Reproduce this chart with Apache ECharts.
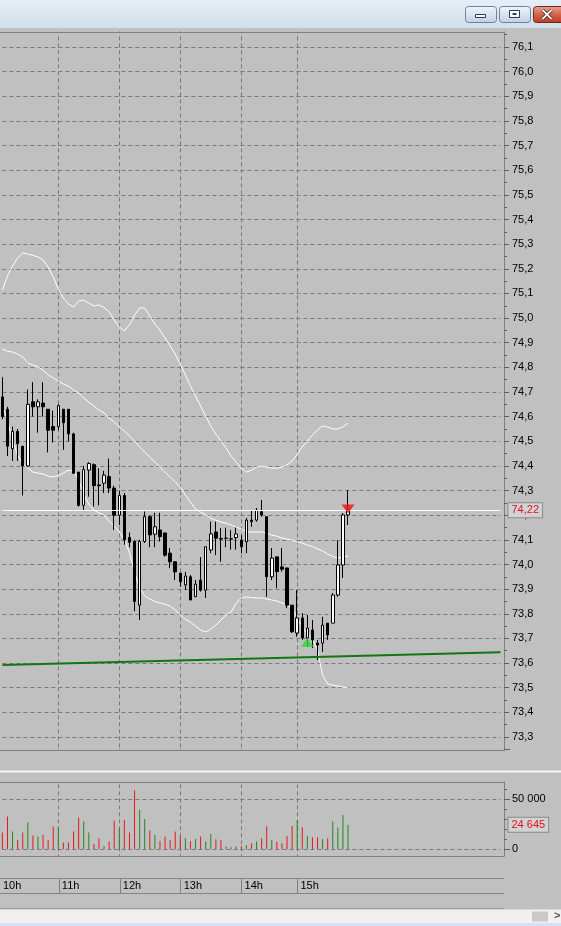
<!DOCTYPE html>
<html><head><meta charset="utf-8">
<script src="https://cdn.jsdelivr.net/npm/echarts@6/dist/echarts.min.js"></script>
<style>html,body{margin:0;padding:0;background:#c0c0c0;overflow:hidden}#c{width:561px;height:926px;}</style>
</head><body><div id="c"></div>
<script>
// ---- data (5-minute candles, index 0 = first visible bar) ----
const opens  = [74.68,74.63,74.47,74.54,74.48,74.40,74.66,74.64,74.655,74.63,74.56,74.56,74.63,74.63,74.53,74.375,74.24,74.383,74.405,74.323,74.33,74.357,74.31,74.20,74.28,74.11,74.093,73.835,74.093,74.194,74.123,74.14,74.128,74.046,74.011,73.965,73.917,73.95,73.869,73.937,73.896,74.059,74.132,74.105,74.106,74.104,74.109,74.099,74.092,74.18,74.18,74.214,74.194,73.95,74.031,73.99,73.986,73.835,73.722,73.783,73.702,73.734,73.681,73.681,73.762,73.762,73.876,73.998,74.201];
const closes = [74.60,74.48,74.54,74.49,74.40,74.65,74.64,74.66,74.64,74.545,74.545,74.645,74.575,74.53,74.37,74.24,74.385,74.41,74.32,74.32,74.363,74.31,74.20,74.28,74.10,74.09,73.85,74.093,74.194,74.12,74.153,74.113,74.038,74.011,73.97,73.93,73.953,73.856,73.92,73.896,74.072,74.124,74.107,74.103,74.107,74.103,74.124,74.072,74.18,74.174,74.221,74.201,73.95,74.026,73.971,73.981,73.835,73.727,73.783,73.702,73.742,73.694,73.673,73.754,73.714,73.876,73.998,74.201,74.22];
const lows   = [74.59,74.44,74.42,74.42,74.28,74.395,74.60,74.535,74.60,74.455,74.495,74.545,74.465,74.50,74.37,74.235,74.22,74.275,74.235,74.24,74.29,74.29,74.14,74.16,74.08,74.07,73.81,73.775,74.087,74.07,74.07,74.093,74.032,73.985,73.937,73.91,73.896,73.856,73.868,73.89,73.864,74.046,74.038,74.011,74.07,74.06,74.06,74.046,74.046,74.153,74.174,74.194,73.869,73.937,73.904,73.971,73.823,73.722,73.707,73.694,73.666,73.661,73.612,73.645,73.694,73.762,73.869,73.945,74.16];
const highs  = [74.76,74.64,74.56,74.55,74.48,74.71,74.74,74.67,74.74,74.63,74.625,74.65,74.63,74.63,74.535,74.375,74.40,74.415,74.41,74.39,74.38,74.43,74.32,74.30,74.29,74.13,74.10,74.10,74.215,74.20,74.21,74.21,74.128,74.067,74.011,73.965,73.97,73.957,73.937,74.03,74.072,74.174,74.174,74.148,74.15,74.14,74.15,74.119,74.189,74.221,74.229,74.262,74.194,74.067,74.031,74.067,73.986,73.835,73.896,73.803,73.795,73.775,73.694,73.788,73.762,73.884,74.099,74.209,74.302];
const volumes = [16700,32700,17700,9300,16700,26700,13700,12700,14300,9300,22700,22000,6700,6700,17700,31700,27700,16700,5300,11000,3300,7700,28700,21000,29300,16700,58700,39300,30300,18700,14300,8300,12700,9300,17700,13300,11000,8300,10300,12700,7700,15300,10000,9300,2700,2000,2700,3300,4300,6000,7700,11000,22700,9300,7700,6000,13300,23300,28700,22000,13300,12000,12000,10000,11000,27700,21700,34300,24645];
const bbUpper = [75.114,75.171,75.211,75.244,75.264,75.260,75.254,75.248,75.236,75.207,75.167,75.118,75.081,75.057,75.045,75.069,75.073,75.061,75.049,75.053,75.043,75.025,74.992,74.964,74.948,74.972,75.012,75.041,75.041,75.008,74.976,74.951,74.919,74.887,74.854,74.813,74.769,74.724,74.684,74.643,74.602,74.562,74.529,74.501,74.473,74.440,74.416,74.391,74.375,74.383,74.395,74.399,74.395,74.391,74.391,74.395,74.404,74.420,74.448,74.477,74.501,74.525,74.546,74.562,74.558,74.550,74.550,74.558,74.574];
const bbMiddle = [74.874,74.866,74.862,74.854,74.842,74.818,74.810,74.801,74.789,74.769,74.757,74.745,74.732,74.724,74.708,74.696,74.675,74.659,74.643,74.627,74.615,74.594,74.578,74.558,74.542,74.521,74.501,74.477,74.456,74.436,74.416,74.395,74.375,74.355,74.335,74.314,74.282,74.253,74.225,74.213,74.201,74.188,74.180,74.172,74.168,74.160,74.152,74.144,74.132,74.132,74.132,74.132,74.128,74.119,74.115,74.107,74.103,74.099,74.091,74.087,74.079,74.073,74.063,74.055,74.042,74.032,74.026,74.030,74.034];
const bbLower = [74.647,74.582,74.505,74.444,74.408,74.391,74.375,74.371,74.367,74.359,74.355,74.361,74.371,74.383,74.379,74.343,74.286,74.245,74.221,74.209,74.201,74.176,74.156,74.132,74.103,74.046,73.969,73.904,73.872,73.860,73.850,73.844,73.839,73.831,73.815,73.795,73.778,73.766,73.750,73.734,73.726,73.738,73.754,73.775,73.795,73.807,73.844,73.864,73.868,73.866,73.864,73.864,73.860,73.856,73.852,73.844,73.835,73.823,73.783,73.746,73.718,73.697,73.653,73.551,73.515,73.511,73.507,73.503,73.499];
const hourGridIdx  = [11, 23, 35, 47, 58];
const hourLabelIdx = [0, 11, 23, 35, 47, 58];
const hourLabels   = ['10h','11h','12h','13h','14h','15h'];
const trendLine = [73.592, 73.644];     // at first / last slot
const lastPrice = 74.22;
const lastPriceText = '74,22';
const lastVolume = 24645;
const lastVolumeText = '24 645';
const volumeTicks = [0, 50000];
const volumeTickText = ['0', '50 000'];
const buySignal = [60, 73.683];
const sellSignal = [68, 74.225];
const SLOTS = 99;

// ---- chart ----
const categories = Array.from({length: SLOTS}, (_, i) => 's' + i);
const FONT = '"Liberation Sans", Arial, sans-serif';
const BG = '#c0c0c0';
const GRIDC = '#7a7a7a';
const GL = 2.4, GW = 498.1;
const chart = echarts.init(document.getElementById('c'), null, {renderer: 'canvas'});

const xAx = (g) => ({
  type: 'category', gridIndex: g, data: categories, boundaryGap: false,
  axisLine: {show: false}, axisTick: {show: false},
  axisLabel: g === 2 ? {
    show: true, inside: true, margin: 2, align: 'left',
    interval: (i) => hourLabelIdx.includes(i),
    formatter: (v, i) => { const k = hourLabelIdx.indexOf(i); return k === 0 ? '{a|' + hourLabels[k] + '}' : '{b|' + hourLabels[k] + '}'; },
    color: '#000', fontSize: 11, fontFamily: FONT,
    rich: {a: {fontSize: 11, fontFamily: FONT, color: '#000'}, b: {fontSize: 11, fontFamily: FONT, color: '#000', padding: [0, 0, 0, 3]}}
  } : {show: false},
  splitLine: {show: true, interval: (i) => hourGridIdx.includes(i),
    lineStyle: g === 2 ? {color: '#808080', type: 'solid', width: 1} : {color: GRIDC, type: [4, 3], width: 1}},
  z: g === 2 ? 60 : 0
});

const upC = '#1d8a1d', dnC = '#e21b1b';
const option = {
  backgroundColor: BG,
  animation: false,
  grid: [
    {left: GL, width: GW, top: 22.36, height: 739.28},
    {left: GL, width: GW, top: 749.3, height: 150},
    {left: GL, width: GW, top: 878, height: 15}
  ],
  xAxis: [xAx(0), xAx(1), xAx(2)],
  yAxis: [
    {type: 'value', gridIndex: 0, position: 'right', offset: 3.5, min: 73.2, max: 76.2, interval: 0.1,
      axisLine: {show: true, lineStyle: {color: '#808080'}},
      axisTick: {show: true, length: 5, lineStyle: {color: '#606060'}},
      minorTick: {show: true, splitNumber: 2, length: 3, lineStyle: {color: '#606060'}},
      axisLabel: {color: '#000', fontSize: 11, fontFamily: FONT, margin: 8,
        formatter: (v) => (v < 73.25 || v > 76.15) ? '' : v.toFixed(1).replace('.', ',')},
      splitLine: {show: true, lineStyle: {color: GRIDC, type: [4, 3]}}
    },
    {type: 'value', gridIndex: 1, position: 'right', offset: 3.5, min: -50000, max: 100000, interval: 50000,
      axisLine: {show: true, lineStyle: {color: '#808080'}},
      axisTick: {show: true, length: 6, lineStyle: {color: '#606060'}},
      minorTick: {show: true, splitNumber: 5, length: 3, lineStyle: {color: '#606060'}},
      axisLabel: {color: '#000', fontSize: 11, fontFamily: FONT, margin: 8,
        formatter: (v) => { const k = volumeTicks.indexOf(v); return k < 0 ? '' : volumeTickText[k]; }},
      splitLine: {show: false}
    },
    {type: 'value', gridIndex: 2, show: false}
  ],
  series: [
    {type: 'line', xAxisIndex: 0, yAxisIndex: 0, data: bbUpper, showSymbol: false, silent: true, z: 1,
      lineStyle: {color: '#ffffff', width: 1}},
    {type: 'line', xAxisIndex: 0, yAxisIndex: 0, data: bbMiddle, showSymbol: false, silent: true, z: 1,
      lineStyle: {color: '#ffffff', width: 1}},
    {type: 'line', xAxisIndex: 0, yAxisIndex: 0, data: bbLower, showSymbol: false, silent: true, z: 1,
      lineStyle: {color: '#ffffff', width: 1}},
    {type: 'candlestick', xAxisIndex: 0, yAxisIndex: 0, barWidth: 3, silent: true, z: 3,
      data: opens.map((o, i) => [o, closes[i], lows[i], highs[i]]),
      itemStyle: {color: '#ffffff', color0: '#000000', borderColor: '#000000', borderColor0: '#000000', borderWidth: 1},
      markLine: {silent: true, symbol: ['none', 'none'], animation: false,
        data: [
          {yAxis: lastPrice, lineStyle: {color: '#ffffff', width: 1, type: 'solid'},
            label: {show: true, position: 'end', distance: 8, formatter: lastPriceText, color: '#e01020',
              fontSize: 11, fontFamily: FONT, backgroundColor: '#d2d2d2', borderColor: '#8a8a8a', borderWidth: 1, padding: [2, 3, 1, 3]}},
          [{coord: [categories[0], trendLine[0]], lineStyle: {color: '#137613', width: 2, type: 'solid'}, label: {show: false}},
           {coord: [categories[SLOTS - 1], trendLine[1]], lineStyle: {color: '#137613', width: 2, type: 'solid'}, label: {show: false}}]
        ]}
    },
    {type: 'scatter', xAxisIndex: 0, yAxisIndex: 0, silent: true, z: 6, symbol: 'triangle', symbolSize: [13, 9],
      data: [[categories[buySignal[0]], buySignal[1]]], itemStyle: {color: '#33d633'}},
    {type: 'scatter', xAxisIndex: 0, yAxisIndex: 0, silent: true, z: 6, symbol: 'triangle', symbolSize: [13, 9], symbolRotate: 180,
      data: [[categories[sellSignal[0]], sellSignal[1]]], itemStyle: {color: '#ee1111'}},
    {type: 'bar', xAxisIndex: 1, yAxisIndex: 1, barWidth: 1, silent: true,
      data: volumes.map((v, i) => ({value: v, itemStyle: {color: closes[i] >= opens[i] ? upC : dnC}})),
      markLine: {silent: true, symbol: ['none', 'none'], animation: false,
        data: [
          {yAxis: volumeTicks[0], lineStyle: {color: GRIDC, type: [4, 3], width: 1}, label: {show: false}},
          {yAxis: volumeTicks[1], lineStyle: {color: GRIDC, type: [4, 3], width: 1}, label: {show: false}},
          {yAxis: lastVolume, lineStyle: {color: 'rgba(0,0,0,0)', width: 0},
            label: {show: true, position: 'end', distance: 8, formatter: lastVolumeText, color: '#e01020',
              fontSize: 11, fontFamily: FONT, backgroundColor: '#d2d2d2', borderColor: '#8a8a8a', borderWidth: 1, padding: [2, 3, 1, 3]}}
        ]}
    }
  ],
  graphic: [
    // cover bands outside the panes
    {type: 'rect', z: 50, silent: true, shape: {x: 0, y: 0, width: 561, height: 31.5}, style: {fill: BG}},
    {type: 'rect', z: 50, silent: true, shape: {x: 0, y: 750.5, width: 561, height: 31}, style: {fill: BG}},
    {type: 'rect', z: 50, silent: true, shape: {x: 0, y: 856.5, width: 561, height: 70}, style: {fill: BG}},
    // pane frames
    {type: 'line', z: 55, silent: true, shape: {x1: 0, y1: 32.5, x2: 504.5, y2: 32.5}, style: {stroke: '#808080', lineWidth: 1}},
    {type: 'line', z: 55, silent: true, shape: {x1: 0, y1: 750.5, x2: 504.5, y2: 750.5}, style: {stroke: '#808080', lineWidth: 1}},
    {type: 'rect', z: 55, silent: true, shape: {x: 0, y: 770.5, width: 561, height: 2}, style: {fill: '#f4f4f4'}},
    {type: 'line', z: 55, silent: true, shape: {x1: 0, y1: 782.5, x2: 504.5, y2: 782.5}, style: {stroke: '#808080', lineWidth: 1}},
    {type: 'line', z: 55, silent: true, shape: {x1: 0, y1: 856.5, x2: 504.5, y2: 856.5}, style: {stroke: '#808080', lineWidth: 1}},
    {type: 'line', z: 55, silent: true, shape: {x1: 0, y1: 878.5, x2: 504, y2: 878.5}, style: {stroke: '#858585', lineWidth: 1}},
    {type: 'line', z: 55, silent: true, shape: {x1: 0, y1: 893.5, x2: 504, y2: 893.5}, style: {stroke: '#858585', lineWidth: 1}},
    {type: 'line', z: 55, silent: true, shape: {x1: 0, y1: 908.5, x2: 504, y2: 908.5}, style: {stroke: '#9a9a9a', lineWidth: 1}},
    // bottom scroll bar
    {type: 'rect', z: 70, silent: true, shape: {x: 0, y: 909.5, width: 561, height: 14}, style: {fill: '#f0f0f0'}},
    {type: 'rect', z: 71, silent: true, shape: {x: 532, y: 911.5, width: 16, height: 10}, style: {fill: '#c9c9c9'}},
    {type: 'text', z: 71, silent: true, x: 554, y: 910, style: {text: '>', fill: '#555', font: 'bold 11px ' + FONT}},
    {type: 'rect', z: 70, silent: true, shape: {x: 0, y: 923, width: 561, height: 3}, style: {fill: '#d5e2f2'}},
    // title bar
    {type: 'rect', z: 100, silent: true, shape: {x: 0, y: 0, width: 561, height: 28},
      style: {fill: new echarts.graphic.LinearGradient(0, 0, 0, 1, [{offset: 0, color: '#e6edf6'}, {offset: 1, color: '#d3deeb'}])}},
    {type: 'rect', z: 101, silent: true, shape: {x: 465.5, y: 6.5, width: 31, height: 16, r: 3},
      style: {fill: new echarts.graphic.LinearGradient(0, 0, 0, 1, [{offset: 0, color: '#eef3fa'}, {offset: 0.5, color: '#d9e4f1'}, {offset: 1, color: '#bfcfe3'}]), stroke: '#6f8199', lineWidth: 1}},
    {type: 'rect', z: 102, silent: true, shape: {x: 475.5, y: 14.5, width: 10, height: 3}, style: {fill: '#fff', stroke: '#2a3d57', lineWidth: 1}},
    {type: 'rect', z: 101, silent: true, shape: {x: 499.5, y: 6.5, width: 31, height: 16, r: 3},
      style: {fill: new echarts.graphic.LinearGradient(0, 0, 0, 1, [{offset: 0, color: '#eef3fa'}, {offset: 0.5, color: '#d9e4f1'}, {offset: 1, color: '#bfcfe3'}]), stroke: '#6f8199', lineWidth: 1}},
    {type: 'rect', z: 102, silent: true, shape: {x: 509.5, y: 10.5, width: 10, height: 7}, style: {fill: '#fff', stroke: '#2a3d57', lineWidth: 1}},
    {type: 'rect', z: 103, silent: true, shape: {x: 512.5, y: 13, width: 4, height: 2}, style: {fill: '#2a3d57'}},
    {type: 'rect', z: 101, silent: true, shape: {x: 533.5, y: 6.5, width: 34, height: 16, r: 3},
      style: {fill: new echarts.graphic.LinearGradient(0, 0, 0, 1, [{offset: 0, color: '#eaa493'}, {offset: 0.5, color: '#d4634c'}, {offset: 1, color: '#bf3a22'}]), stroke: '#6b2a1e', lineWidth: 1}},
    {type: 'polyline', z: 102, silent: true, shape: {points: [[542.5, 10], [551.5, 19]]}, style: {stroke: '#3a1a14', lineWidth: 3.2}},
    {type: 'polyline', z: 102, silent: true, shape: {points: [[551.5, 10], [542.5, 19]]}, style: {stroke: '#3a1a14', lineWidth: 3.2}},
    {type: 'polyline', z: 103, silent: true, shape: {points: [[542.5, 10], [551.5, 19]]}, style: {stroke: '#ffffff', lineWidth: 1.8}},
    {type: 'polyline', z: 103, silent: true, shape: {points: [[551.5, 10], [542.5, 19]]}, style: {stroke: '#ffffff', lineWidth: 1.8}}
  ]
};
chart.setOption(option);
</script>
</body></html>
